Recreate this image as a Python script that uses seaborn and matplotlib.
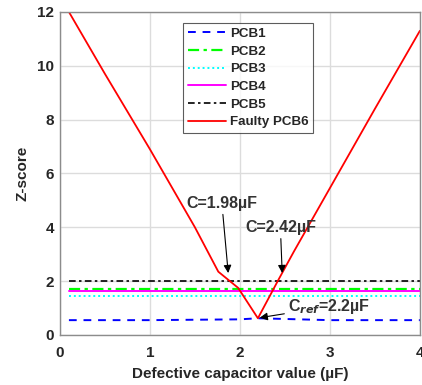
import numpy as np
import pandas as pd
import matplotlib
matplotlib.use("Agg")
import matplotlib.pyplot as plt
import seaborn as sns

sns.set_theme(style="whitegrid")
plt.rcParams['font.family'] = ['Liberation Sans', 'DejaVu Sans']
plt.rcParams['font.weight'] = 'bold'

x_ref = [0.1, 1.0, 2.0, 2.2, 3.0, 4.0]
pcb1 = [0.55, 0.55, 0.58, 0.62, 0.55, 0.55]
pcb2 = [1.7, 1.7, 1.7, 1.7, 1.7, 1.7]
pcb3 = [1.45, 1.45, 1.45, 1.45, 1.45, 1.45]
pcb4 = [1.65, 1.65, 1.65, 1.65, 1.65, 1.65]
pcb5 = [2.0, 2.0, 2.0, 2.0, 2.0, 2.0]

x_fault = [0.1, 0.5, 1.0, 1.5, 1.76, 1.98, 2.2, 2.42, 2.6, 3.05, 3.5, 4.0]
y_fault = [12.0, 9.7, 6.9, 4.0, 2.35, 1.75, 0.62, 2.0, 3.1, 5.75, 8.4, 11.3]

series = [
    ("PCB1", x_ref, pcb1, "#0000ff", (0, (4, 3.5)), 1.4),
    ("PCB2", x_ref, pcb2, "#00ff00", (0, (5, 2, 1.5, 2)), 1.6),
    ("PCB3", x_ref, pcb3, "#00ffff", (0, (1, 1.5)), 1.4),
    ("PCB4", x_ref, pcb4, "#ff00ff", "-", 1.4),
    ("PCB5", x_ref, pcb5, "#000000", (0, (4, 2, 1.5, 2)), 1.2),
    ("Faulty PCB6", x_fault, y_fault, "#ff0000", "-", 1.3),
]

fig = plt.figure(figsize=(4.22, 3.85), dpi=100)
ax = fig.add_axes([0.142, 0.130, 0.853, 0.839])

for name, xs, ys, c, ls, lw in series:
    df = pd.DataFrame({"x": xs, "y": ys})
    sns.lineplot(data=df, x="x", y="y", ax=ax, color=c, linestyle=ls,
                 linewidth=lw, label=name, sort=False)

ax.set_xlim(0, 4)
ax.set_ylim(0, 12)
ax.set_xticks([0, 1, 2, 3, 4])
ax.set_yticks([0, 2, 4, 6, 8, 10, 12])
ax.grid(True, color="#dcdcdc", linewidth=1.0)
for s in ax.spines.values():
    s.set_color("#8c8c8c")
    s.set_linewidth(1.0)
ax.tick_params(axis="both", direction="in", length=3, color="#8c8c8c",
               labelsize=11, labelcolor="#262626")
ax.tick_params(axis="x", pad=8)
ax.tick_params(axis="y", pad=4)
for lab in ax.get_xticklabels() + ax.get_yticklabels():
    lab.set_fontweight("bold")
ax.set_xlabel("Defective capacitor value (\u00b5F)", fontsize=11,
              fontweight="bold", color="#262626", labelpad=5)
ax.set_ylabel("Z-score", fontsize=11, fontweight="bold", color="#262626",
              labelpad=6)

leg = ax.legend(loc="upper left", bbox_to_anchor=(0.342, 0.966), fontsize=9.6,
                frameon=True, fancybox=False, handlelength=2.9,
                handletextpad=0.25, borderpad=0.35, labelspacing=0.4,
                borderaxespad=0)
leg.get_frame().set_edgecolor("#333333")
leg.get_frame().set_linewidth(0.8)
for t in leg.get_texts():
    t.set_fontweight("bold")
    t.set_color("#262626")

ann_kw = dict(fontsize=11.5, fontweight="bold", color="#333333")
arrow = dict(arrowstyle="-|>", color="black", lw=0.8, shrinkA=0, shrinkB=0)
ax.annotate("C=1.98\u00b5F", xy=(1.87, 2.3), xytext=(1.8, 4.6),
            ha="center", va="bottom", arrowprops=arrow, **ann_kw)
ax.annotate("C=2.42\u00b5F", xy=(2.47, 2.3), xytext=(2.45, 3.7),
            ha="center", va="bottom", arrowprops=arrow, **ann_kw)
ax.annotate("C$_{ref}$=2.2\u00b5F", xy=(2.22, 0.64), xytext=(2.53, 1.05),
            ha="left", va="center", arrowprops=arrow, **ann_kw)

fig.savefig("out.png", dpi=100)
